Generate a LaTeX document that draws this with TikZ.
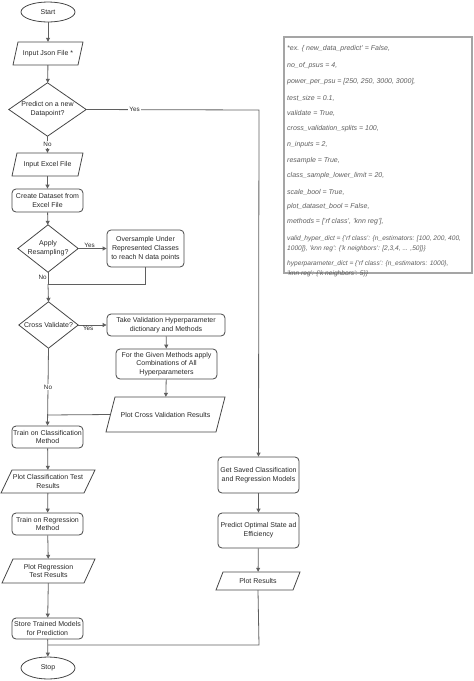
\documentclass[tikz,border=0pt]{standalone}
\usepackage{fontspec}
\setmainfont{Liberation Sans}
\usetikzlibrary{shapes.geometric,arrows.meta}
\definecolor{linec}{RGB}{95,95,95}
\definecolor{shapec}{RGB}{70,70,70}
\definecolor{txtc}{RGB}{40,40,40}
\definecolor{notec}{RGB}{95,95,95}
\definecolor{noteb}{RGB}{165,165,165}
\tikzset{
 base/.style={font=\fontsize{7}{8.7}\selectfont, text=txtc, align=center, inner sep=0pt},
 rbox/.style={base, draw=shapec, line width=0.8pt, rounded corners=4pt, rectangle},
 ptext/.style={base, rectangle},
 pshape/.style={draw=shapec, line width=0.8pt},
 ell/.style={base, draw=shapec, line width=0.8pt, ellipse},
 conn/.style={draw=linec, line width=0.8pt},
 arr/.style={conn, -{Triangle[length=4pt,width=4pt]}},
 lab/.style={font=\fontsize{6.3}{7}\selectfont, text=txtc, inner sep=1pt},
 labw/.style={lab, fill=white},
 note/.style={font=\fontsize{7}{10}\selectfont\itshape, text=notec, anchor=west, align=left, inner sep=0pt},
 notes/.style={note, font=\fontsize{6.6}{10}\selectfont\itshape},
}
\newcommand\mybox[6]{\node[rbox,minimum width={#3-#2},minimum height={#5-#4}] (#1) at ({(#2+#3)/2},{(#4+#5)/2}) {#6};}
\newcommand\mypara[7]{\node[ptext,minimum width={#3-#2-#6},minimum height={#5-#4}] (#1) at ({(#2+#3)/2},{(#4+#5)/2}) {#7};
 \draw[pshape] (#2+#6,#4) -- (#3,#4) -- (#3-#6,#5) -- (#2,#5) -- cycle;}
\newcommand\mydiam[6]{\node[ptext,minimum width={#3-#2},minimum height={#5-#4}] (#1) at ({(#2+#3)/2},{(#4+#5)/2}) {#6};
 \draw[pshape] (#1.north) -- (#1.east) -- (#1.south) -- (#1.west) -- cycle;}
\begin{document}
\begin{tikzpicture}[x=1pt,y=-1pt]
\useasboundingbox (0,0) rectangle (474,681);
% left column
\node[ell,minimum width=54pt,minimum height=20pt] (start) at (48,12) {Start};
\mypara{json}{13}{83}{42}{65}{5}{Input Json File *}
\mydiam{pred}{9}{86}{83}{136}{Predict on a new\\Datapoint?}
\mypara{excel}{12}{83}{153}{176}{5}{Input Excel File}
\mybox{create}{12}{83}{189}{212}{Create Dataset from\\Excel File}
\mydiam{resamp}{18}{78}{225}{272}{Apply\\Resampling?}
\mybox{over}{107}{184}{230}{267}{Oversample Under\\Represented Classes\\to reach N data points}
\mydiam{cross}{19}{78}{302}{348}{Cross Validate?}
\mybox{takeval}{107}{225}{314}{336}{Take Validation Hyperparameter\\dictionary and Methods}
\mybox{given}{116}{217}{349}{379}{For the Given Methods apply\\Combinations of All\\Hyperparameters}
\mypara{plotcv}{106}{225}{397}{432}{9}{Plot Cross Validation Results}
\mybox{trainc}{12}{83}{426}{448}{Train on Classification\\Method}
\mypara{plotc}{1}{95}{470}{493}{11}{Plot Classification Test\\Results}
\mybox{trainr}{12}{83}{513}{535}{Train on Regression\\Method}
\mypara{plotr}{2}{95}{559}{583}{11}{Plot Regression\\Test Results}
\mybox{store}{12}{83}{618}{639}{Store Trained Models\\for Prediction}
\node[ell,minimum width=54pt,minimum height=22pt] (stop) at (48,668) {Stop};
% right column
\mybox{getsaved}{218}{299}{457}{493}{Get Saved Classification\\and Regression Models}
\mybox{predopt}{218}{299}{513}{548}{Predict Optimal State ad\\Efficiency}
\mypara{plotres}{216}{300}{572}{590}{7}{Plot Results}
% helper coordinates
\coordinate (c1) at (259,110);
\coordinate (c2) at (48,284);
\coordinate (c3) at (145,284);
\coordinate (c4) at (48,415);
\coordinate (c5) at (48,645);
\coordinate (c6) at (259,645);
% connectors
\draw[arr] (start) -- (json);
\draw[arr] (json) -- (pred);
\draw[arr] (pred) -- node[labw,pos=0.5]{No} (excel);
\draw[arr] (pred.east) -- node[labw,pos=0.28]{Yes} (c1) -- (getsaved.north);
\draw[arr] (excel) -- (create);
\draw[arr] (create) -- (resamp);
\draw[arr] (resamp.east) -- node[lab,above,pos=0.4]{Yes} (over.west);
\draw[conn] (resamp.south) -- node[lab,left,pos=0.45]{No} (c2);
\draw[conn] (over.south) |- (c2);
\draw[arr] (c2) -- (cross.north);
\draw[arr] (cross.east) -- node[lab,below,pos=0.35]{Yes} (takeval.west);
\draw[arr] (takeval) -- (given);
\draw[arr] (given) -- (plotcv);
\draw[conn] (plotcv.west) -- (c4);
\draw[arr] (cross.south) -- node[labw,pos=0.5]{No} (trainc.north);
\draw[arr] (trainc) -- (plotc);
\draw[arr] (plotc) -- (trainr);
\draw[arr] (trainr) -- (plotr);
\draw[arr] (plotr) -- (store);
\draw[arr] (store) -- (stop);
\draw[arr] (getsaved) -- (predopt);
\draw[arr] (predopt) -- (plotres);
\draw[conn] (plotres.south) -- (c6) -- (c5);
% note box
\node[draw=noteb,line width=1.2pt,fill=white,minimum width=188pt,minimum height=236pt,inner sep=0pt] (notebox) at (378,155) {};
\node[note] (t1) at (287,49) {*ex. \{ new\_data\_predict' = False,};
\node[note] (t2) at (287,66) {no\_of\_psus = 4,};
\node[note] (t3) at (287,82) {power\_per\_psu = [250, 250, 3000, 3000],};
\node[note] (t4) at (287,98) {test\_size = 0.1,};
\node[note] (t5) at (287,113) {validate = True,};
\node[note] (t6) at (287,129) {cross\_validation\_splits = 100,};
\node[note] (t7) at (287,145) {n\_inputs = 2,};
\node[note] (t8) at (287,161) {resample = True,};
\node[note] (t9) at (287,176) {class\_sample\_lower\_limit = 20,};
\node[note] (t10) at (287,192) {scale\_bool = True,};
\node[note] (t11) at (287,207) {plot\_dataset\_bool = False,};
\node[note] (t12) at (287,222) {methods = ['rf class', 'knn reg'],};
\node[notes] (t13) at (287,243.5) {valid\_hyper\_dict = \{'rf class': \{n\_estimators: [100, 200, 400,\\1000]\}, 'knn reg': \{'k neighbors': [2,3,4, ... ,50]\}\}};
\node[notes] (t14) at (287,268.5) {hyperparameter\_dict = \{'rf class': \{n\_estimators: 1000\},\\'knn reg': \{'k neighbors': 5\}\}};
\end{tikzpicture}
\end{document}
